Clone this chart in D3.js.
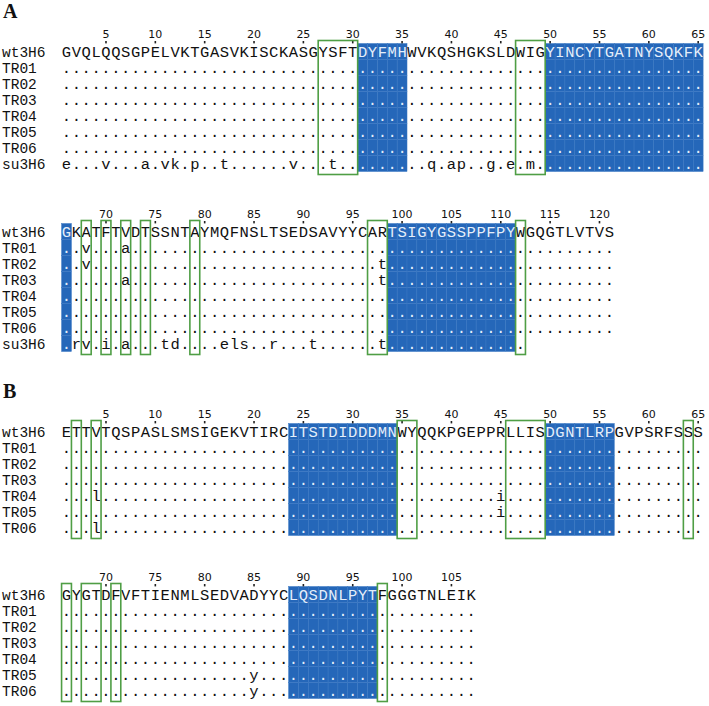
<!DOCTYPE html>
<html><head><meta charset="utf-8">
<script src="https://cdn.jsdelivr.net/npm/d3@7/dist/d3.min.js"></script>
<style>body{margin:0;background:#fff}</style>
</head><body>
<script>
// ---- data ----
const heavyWT = "GVQLQQSGPELVKTGASVKISCKASGYSFTDYFMHWVKQSHGKSLDWIGYINCYTGATNYSQKFKGKATFTVDTSSNTAYMQFNSLTSEDSAVYYCARTSIGYGSSPPFPYWGQGTLVTVS";
const lightWT = "ETTVTQSPASLSMSIGEKVTIRCITSTDIDDDMNWYQQKPGEPPRLLISDGNTLRPGVPSRFSSSGYGTDFVFTIENMLSEDVADYYCLQSDNLPYTFGGGTNLEIK";
const heavyRows = ["wt3H6","TR01","TR02","TR03","TR04","TR05","TR06","su3H6"];
const lightRows = ["wt3H6","TR01","TR02","TR03","TR04","TR05","TR06"];
const heavyMut = {
  TR01: [[68,"v"],[72,"a"]],
  TR02: [[68,"v"],[98,"t"]],
  TR03: [[72,"a"],[98,"t"]],
  TR04: [], TR05: [], TR06: [],
  su3H6: [[1,"e"],[5,"v"],[9,"a"],[11,"v"],[12,"k"],[14,"p"],[17,"t"],[24,"v"],[28,"t"],
          [38,"q"],[40,"a"],[41,"p"],[44,"g"],[46,"e"],[48,"m"],
          [67,"r"],[68,"v"],[70,"i"],[72,"a"],[76,"t"],[77,"d"],[82,"e"],[83,"l"],[84,"s"],
          [87,"r"],[91,"t"],[98,"t"]]
};
const heavyRowEnd = {su3H6: 112};
const lightMut = {
  TR01: [], TR02: [], TR03: [],
  TR04: [[4,"l"],[45,"i"]],
  TR05: [[45,"i"],[85,"y"]],
  TR06: [[4,"l"],[85,"y"]]
};
const lightRowEnd = {};
const heavyCDR = [[31,35],[50,66],[99,111]];
const lightCDR = [[24,34],[50,56],[89,97]];
const heavyBoxes = [[27,30],[47,49],[68,68],[70,70],[72,72],[74,74],[79,79],[97,98],[112,112]];
const lightBoxes = [[2,2],[4,4],[35,36],[46,49],[64,64],[66,66],[68,69],[71,71],[98,98]];
const blocks = [
  {chain:"heavy", start:1,  end:65,  top:52,  panel:"A"},
  {chain:"heavy", start:66, end:121, top:232, panel:null},
  {chain:"light", start:1,  end:65,  top:432, panel:"B"},
  {chain:"light", start:66, end:107, top:595, panel:null}
];

// ---- drawing ----
const W = 709, H = 706;
const pitch = 9.87, x0 = 66.5 - pitch/2, rowH = 16;
const blue = "#2567b9", green = "#4f9e45";
const svg = d3.select("body").append("svg").attr("width", W).attr("height", H);

const chains = {
  heavy: {wt: heavyWT, rows: heavyRows, mut: heavyMut, end: heavyRowEnd, cdr: heavyCDR, boxes: heavyBoxes},
  light: {wt: lightWT, rows: lightRows, mut: lightMut, end: lightRowEnd, cdr: lightCDR, boxes: lightBoxes}
};

blocks.forEach(b => {
  const c = chains[b.chain];
  const pos = d3.range(b.start, b.end + 1);
  const x = d3.scaleBand().domain(pos).range([x0, x0 + pos.length * pitch]).padding(0);
  const y = d3.scaleBand().domain(c.rows).range([b.top - 8.5, b.top - 8.5 + rowH * c.rows.length]).padding(0);
  const bw = x.bandwidth();
  const g = svg.append("g");
  const inCDR = p => c.cdr.some(([a, e]) => p >= a && p <= e);

  if (b.panel) {
    g.append("text").attr("x", 3).attr("y", b.top - 34).text(b.panel)
      .attr("font-family", "Liberation Serif").attr("font-weight", "bold")
      .attr("font-size", 20).attr("fill", "#111");
  }

  // CDR blue cells
  const cdrPos = pos.filter(inCDR);
  c.rows.forEach(r => {
    g.selectAll(null).data(cdrPos).join("rect")
      .attr("x", p => x(p)).attr("y", y(r)).attr("width", bw).attr("height", rowH)
      .attr("fill", blue).attr("stroke", "#3a78c3").attr("stroke-width", 0.5);
  });

  // numbers and ticks
  const ticks = pos.filter(p => p % 5 === 0);
  g.selectAll(null).data(ticks).join("text")
    .attr("x", p => x(p) + bw / 2).attr("y", b.top - 14.5)
    .attr("text-anchor", "middle").attr("font-family", "DejaVu Sans")
    .attr("font-size", 11).attr("fill", "#111").text(p => p);
  g.selectAll(null).data(ticks).join("rect")
    .attr("x", p => x(p) + bw / 2 - 0.8).attr("y", b.top - 11).attr("width", 1.6).attr("height", 2.4)
    .attr("fill", "#222");

  // rows
  c.rows.forEach((r, i) => {
    const cy = y(r) + 8.5;
    g.append("text").attr("x", 2).attr("y", cy + 4.7).text(r)
      .attr("font-family", "Liberation Mono").attr("font-size", 14.5).attr("fill", "#111");
    const mm = new Map((c.mut[r] || []).map(d => [d[0], d[1]]));
    const last = c.end[r] || c.wt.length;
    const cells = pos.filter(p => p <= last).map(p => ({
      p, ch: i === 0 ? c.wt[p - 1] : (mm.get(p) || ".")
    }));
    g.selectAll(null).data(cells).join("text")
      .attr("x", d => x(d.p) + bw / 2).attr("y", cy + 4.7)
      .attr("text-anchor", "middle").attr("font-family", "Liberation Mono")
      .attr("font-size", 15.5)
      .attr("fill", d => inCDR(d.p) ? "#e4eefa" : "#111")
      .text(d => d.ch);
  });

  // green boxes
  const bx = c.boxes.filter(([a, e]) => a >= b.start && e <= b.end);
  g.selectAll(null).data(bx).join("rect")
    .attr("x", d => x(d[0])).attr("y", b.top - 11.5)
    .attr("width", d => (d[1] - d[0] + 1) * bw)
    .attr("height", rowH * c.rows.length + 6)
    .attr("fill", "none").attr("stroke", green).attr("stroke-width", 1.6);
});
</script>
</body></html>
